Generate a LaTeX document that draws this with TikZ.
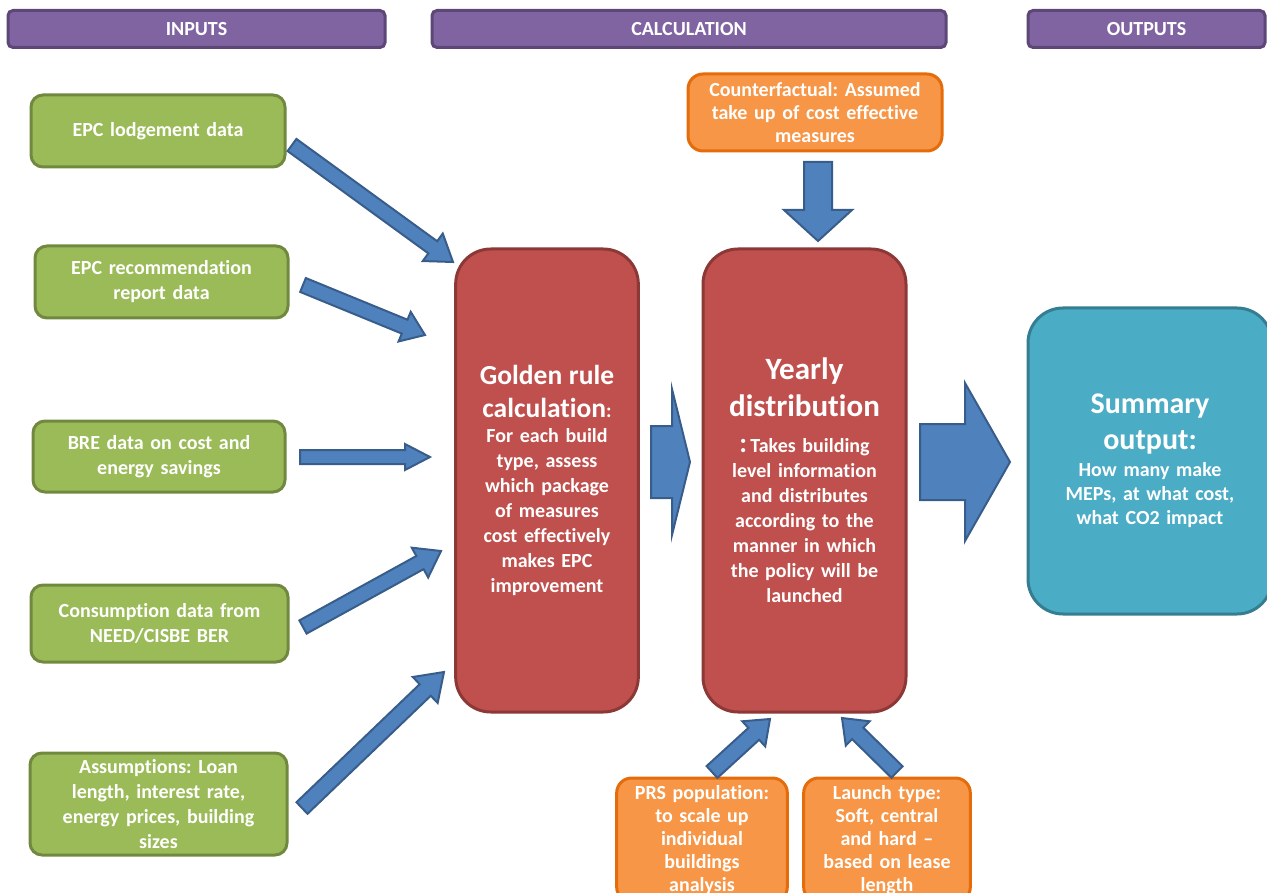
\documentclass[tikz,border=0pt]{standalone}
\usepackage{fontspec}
\setmainfont{Carlito}[Ligatures=NoCommon]
\usepackage{tikz}
\usetikzlibrary{calc,positioning}
\frenchspacing
\definecolor{hdrpurple}{RGB}{128,100,162}
\definecolor{hdrline}{RGB}{92,71,118}
\definecolor{ingreen}{RGB}{155,187,89}
\definecolor{inborder}{RGB}{113,137,63}
\definecolor{calcred}{RGB}{192,80,77}
\definecolor{calcborder}{RGB}{140,56,54}
\definecolor{outteal}{RGB}{75,172,198}
\definecolor{outborder}{RGB}{53,125,145}
\definecolor{sideorange}{RGB}{247,150,70}
\definecolor{sideborder}{RGB}{228,108,10}
\definecolor{arrowblue}{RGB}{79,129,189}
\definecolor{arrowline}{RGB}{56,93,138}

% block arrow: tail, tip, shaft half width, head half width, head length
\newcommand{\fatarrow}[5]{%
  \coordinate (neck) at ($(#2)!#5!(#1)$);
  \draw[fat] ($(#1)!#3!90:(#2)$) -- ($(neck)!#3!90:(#2)$) -- ($(neck)!#4!90:(#2)$)
    -- (#2) -- ($(neck)!#4!-90:(#2)$) -- ($(neck)!#3!-90:(#2)$)
    -- ($(#1)!#3!-90:(#2)$) -- cycle;
}

\begin{document}
\begin{tikzpicture}[x=1pt, y=-1pt,
                    header/.style = {
                      rectangle, rounded corners=5pt, minimum height=37pt,
                      fill=hdrpurple, draw=hdrline, line width=3pt,
                      text=white, font=\fontsize{20}{22}\selectfont\bfseries
                    },
                    input/.style = {
                      rectangle, rounded corners=12pt, text width=245pt,
                      align=center, fill=ingreen, draw=inborder, line width=3pt,
                      text=white, font=\fontsize{20}{25}\selectfont\bfseries
                    },
                    calcbox/.style = {
                      rectangle, rounded corners=35pt, minimum height=463pt,
                      align=center, fill=calcred, draw=calcborder, line width=3pt,
                      text=white, font=\fontsize{20}{25}\selectfont\bfseries
                    },
                    outbox/.style = {
                      rectangle, rounded corners=35pt,
                      align=center, fill=outteal, draw=outborder, line width=3pt,
                      text=white, font=\fontsize{20}{24}\selectfont\bfseries
                    },
                    side/.style = {
                      rectangle, rounded corners=15pt,
                      align=center, fill=sideorange, draw=sideborder, line width=3pt,
                      text=white, font=\fontsize{20}{23}\selectfont\bfseries
                    },
                    fat/.style = {fill=arrowblue, draw=arrowline, line width=2pt}]
  \useasboundingbox (0,0) rectangle (1267,893);

  % column headers
  \node (inputs) [header, minimum width=377pt] at (196.5,29) {INPUTS};
  \node (calculation) [header, minimum width=514pt] at (689,29) {CALCULATION};
  \node (outputs) [header, minimum width=237pt] at (1146.5,29) {OUTPUTS};

  % inputs
  \node (lodge) [input, minimum width=254pt, minimum height=72pt] at (158,131)
        {EPC lodgement data};
  \node (recomm) [input, minimum width=253pt, minimum height=72pt] at (161.5,282)
        {EPC recommendation\\ report data};
  \node (bre) [input, minimum width=252pt, minimum height=71pt] at (159,456.5)
        {BRE data on cost and\\ energy savings};
  \node (consum) [input, minimum width=257pt, minimum height=77pt] at (159.5,623.5)
        {Consumption data from\\ NEED/CISBE BER};
  \node (assum) [input, minimum width=257pt, minimum height=102pt] at (158.5,804)
        {Assumptions: Loan\\ length, interest rate,\\ energy prices, building\\ sizes};

  % calculation
  \node (golden) [calcbox, minimum width=182pt, text width=176pt] at (547,480.5)
        {{\fontsize{27.5}{33}\selectfont Golden rule\\ calculation{\fontsize{20}{25}\selectfont:}\par}
         For each build\\ type, assess\\ which package\\ of measures\\ cost effectively\\
         makes EPC\\ improvement};
  \node (yearly) [calcbox, minimum width=203pt, text width=196pt] at (804.5,480.5)
        {{\fontsize{31}{37}\selectfont Yearly\\ distribution\par}\vspace{11pt}
         {\fontsize{28}{25}\selectfont:}\,Takes building\\ level information\\
         and distributes\\ according to the\\ manner in which\\ the policy will be\\ launched};
  \node (counter) [side, minimum width=254pt, minimum height=77pt, text width=245pt]
        at (815,112.5) {Counterfactual: Assumed\\ take up of cost effective\\ measures};
  \node (prs) [side, minimum width=170pt, minimum height=124pt, text width=164pt]
        at (702,840) {PRS population:\\ to scale up\\ individual\\ buildings\\ analysis};
  \node (launch) [side, minimum width=166pt, minimum height=124pt, text width=160pt]
        at (887,840) {Launch type:\\ Soft, central\\ and hard --\\ based on lease\\ length};

  % outputs
  \node (summary) [outbox, minimum width=244pt, minimum height=306pt, text width=230pt]
        at (1150,461) {{\fontsize{30}{36}\selectfont Summary\\ output:\par}\vspace{3pt}
         How many make\\ MEPs, at what cost,\\ what CO2 impact};

  % arrow ends
  \coordinate (lodge-out) at (292,145);    \coordinate (golden-in1) at (453,262);
  \coordinate (recomm-out) at (303,285);   \coordinate (golden-in2) at (425,335);
  \coordinate (bre-out) at (300,457);      \coordinate (golden-in3) at (430,457);
  \coordinate (consum-out) at (303,627);   \coordinate (golden-in4) at (441,551);
  \coordinate (assum-out) at (302,808);    \coordinate (golden-in5) at (444,672);
  \coordinate (counter-out) at (818,162);  \coordinate (yearly-top) at (818,241);
  \coordinate (golden-out) at (651,462);   \coordinate (yearly-in) at (690,462);
  \coordinate (yearly-out) at (920,462);   \coordinate (summary-in) at (1010,462);
  \coordinate (prs-out) at (712,772);      \coordinate (yearly-bot1) at (770,719);
  \coordinate (launch-out) at (897,772);   \coordinate (yearly-bot2) at (842,718);

  \fatarrow{lodge-out}{golden-in1}{7.5pt}{17pt}{25pt}
  \fatarrow{recomm-out}{golden-in2}{7.5pt}{16pt}{22pt}
  \fatarrow{bre-out}{golden-in3}{7pt}{13pt}{25pt}
  \fatarrow{consum-out}{golden-in4}{7.5pt}{17pt}{24pt}
  \fatarrow{assum-out}{golden-in5}{8pt}{18pt}{26pt}
  \fatarrow{counter-out}{yearly-top}{14pt}{34pt}{31pt}
  \fatarrow{golden-out}{yearly-in}{36pt}{73pt}{18pt}
  \fatarrow{yearly-out}{summary-in}{38pt}{79pt}{45pt}
  \fatarrow{prs-out}{yearly-bot1}{8pt}{17pt}{22pt}
  \fatarrow{launch-out}{yearly-bot2}{8pt}{17pt}{22pt}
\end{tikzpicture}
\end{document}
